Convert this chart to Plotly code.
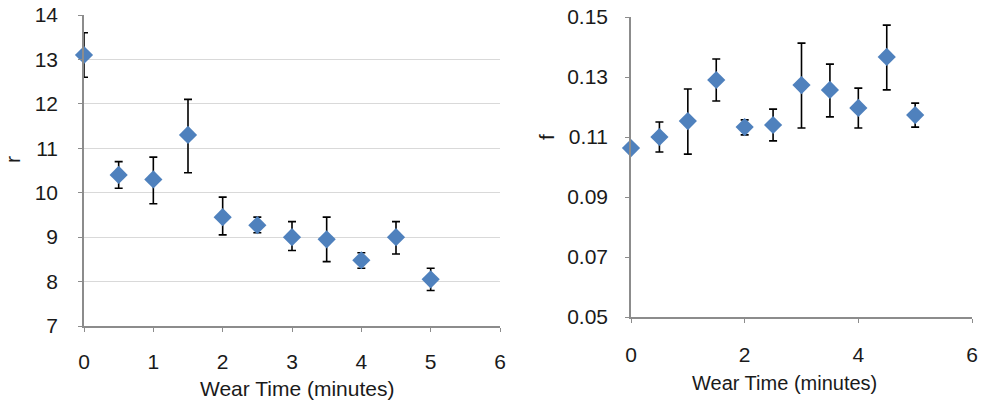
import plotly.graph_objects as go

# Left panel: r vs wear time
x_r = [0, 0.5, 1, 1.5, 2, 2.5, 3, 3.5, 4, 4.5, 5]
r_vals = [13.1, 10.4, 10.3, 11.3, 9.45, 9.27, 9.0, 8.95, 8.48, 9.0, 8.05]
r_hi = [13.6, 10.7, 10.8, 12.1, 9.9, 9.45, 9.35, 9.45, 8.65, 9.35, 8.3]
r_lo = [12.6, 10.1, 9.75, 10.45, 9.05, 9.1, 8.7, 8.45, 8.3, 8.62, 7.8]

# Right panel: f vs wear time
x_f = [0, 0.5, 1, 1.5, 2, 2.5, 3, 3.5, 4, 4.5, 5]
f_vals = [0.1063, 0.110, 0.1153, 0.129, 0.1133, 0.114, 0.1273, 0.1257, 0.1197, 0.1367, 0.1173]
f_hi = [0.1068, 0.115, 0.126, 0.136, 0.1157, 0.1193, 0.1413, 0.1343, 0.1263, 0.1473, 0.1213]
f_lo = [0.1058, 0.105, 0.1043, 0.122, 0.1107, 0.1087, 0.113, 0.1167, 0.113, 0.1257, 0.1133]

x_title = "Wear Time (minutes)"
r_ticks = [7, 8, 9, 10, 11, 12, 13, 14]
f_ticks = [0.05, 0.07, 0.09, 0.11, 0.13, 0.15]

MC = "#4F81BD"
FONT = "Liberation Sans, Arial, sans-serif"
TXT = "#1a1a1a"

fig = go.Figure()
fig.add_trace(go.Scatter(
    x=x_r, y=r_vals, mode="markers", xaxis="x", yaxis="y",
    marker=dict(symbol="diamond", size=14, color=MC),
    error_y=dict(type="data", symmetric=False,
                 array=[h - v for h, v in zip(r_hi, r_vals)],
                 arrayminus=[v - l for l, v in zip(r_lo, r_vals)],
                 color="black", thickness=1.6, width=4),
    showlegend=False, cliponaxis=False))
fig.add_trace(go.Scatter(
    x=x_f, y=f_vals, mode="markers", xaxis="x2", yaxis="y2",
    marker=dict(symbol="diamond", size=14, color=MC),
    error_y=dict(type="data", symmetric=False,
                 array=[h - v for h, v in zip(f_hi, f_vals)],
                 arrayminus=[v - l for l, v in zip(f_lo, f_vals)],
                 color="black", thickness=1.6, width=4),
    showlegend=False, cliponaxis=False))

axfont = dict(family=FONT, size=21, color=TXT)
W, H = 981, 402

fig.update_layout(
    width=W, height=H, margin=dict(l=0, r=0, t=0, b=0, autoexpand=False),
    paper_bgcolor="white", plot_bgcolor="white",
    font=dict(family=FONT, color=TXT),
    xaxis=dict(domain=[84 / W, 500 / W], range=[0, 6], tickvals=[0, 1, 2, 3, 4, 5, 6],
               showgrid=False, zeroline=False, showline=True, linecolor="#8c8c8c", linewidth=1.5,
               ticks="outside", ticklen=4, tickcolor="#8c8c8c", tickfont=axfont,
               ticklabelstandoff=12, anchor="y", automargin=False, ticklabeloverflow="allow"),
    yaxis=dict(domain=[1 - 326 / H, 1 - 15 / H], range=[7, 14], tickvals=r_ticks,
               showgrid=True, gridcolor="#d9d9d9", gridwidth=1.2, zeroline=False,
               showline=True, linecolor="#8c8c8c", linewidth=1.5,
               ticks="outside", ticklen=4, tickcolor="#8c8c8c", tickfont=axfont,
               ticklabelstandoff=16, anchor="x", automargin=False, ticklabeloverflow="allow"),
    xaxis2=dict(domain=[631 / W, 972 / W], range=[0, 6], tickvals=[0, 2, 4, 6],
                showgrid=False, zeroline=False, showline=True, linecolor="#8c8c8c", linewidth=1.5,
                ticks="outside", ticklen=4, tickcolor="#8c8c8c", tickfont=axfont,
                ticklabelstandoff=14, anchor="y2", automargin=False, ticklabeloverflow="allow"),
    yaxis2=dict(domain=[1 - 317 / H, 1 - 17 / H], range=[0.05, 0.15], tickvals=f_ticks,
                tickformat=".2f", showgrid=False, zeroline=False,
                showline=True, linecolor="#8c8c8c", linewidth=1.5,
                ticks="outside", ticklen=4, tickcolor="#8c8c8c", tickfont=axfont,
                ticklabelstandoff=13, anchor="x2", automargin=False, ticklabeloverflow="allow"),
    annotations=[
        dict(text="r", x=12 / W, y=1 - 160 / H, xref="paper", yref="paper", textangle=-90,
             xanchor="center", yanchor="middle",
             showarrow=False, font=dict(family=FONT, size=21, color=TXT)),
        dict(text="f", x=546 / W, y=1 - 137 / H, xref="paper", yref="paper", textangle=-90,
             xanchor="center", yanchor="middle",
             showarrow=False, font=dict(family=FONT, size=21, color=TXT)),
        dict(text=x_title, x=297 / W, y=1 - 388 / H, xref="paper", yref="paper",
             xanchor="center", yanchor="middle",
             showarrow=False, font=dict(family=FONT, size=21, color=TXT)),
        dict(text=x_title, x=784 / W, y=1 - 383 / H, xref="paper", yref="paper",
             xanchor="center", yanchor="middle",
             showarrow=False, font=dict(family=FONT, size=20, color=TXT)),
    ],
)

fig.write_html("out.html")
